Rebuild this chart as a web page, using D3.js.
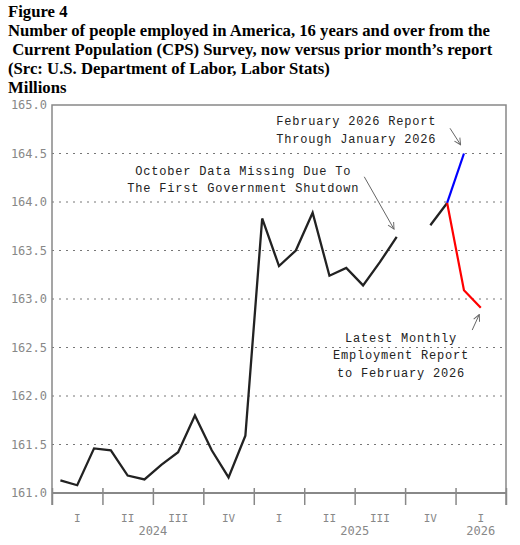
<!DOCTYPE html>
<html lang="en">

<head>
    <meta charset="UTF-8">
    <script src="https://d3js.org/d3.v7.min.js"></script>
    <style>
        body { margin: 0; background: #fff; }
        .title { font-family: "Liberation Serif", serif; font-weight: bold; font-size: 16.7px; fill: #000; }
        .ann { font-family: "Liberation Mono", monospace; font-size: 12px; letter-spacing: 0.8px; fill: #222; }
        .tick-lab { font-family: "DejaVu Sans Mono", monospace; font-size: 12px; fill: #888; }
        .q-lab { font-family: "DejaVu Sans Mono", monospace; font-size: 11px; fill: #888; }
    </style>
</head>

<body>
    <div class="chart"></div>
    <script>
        // chart data, months from Jan 2024 (index 0)
        let titleLines = [
            "Figure 4",
            "Number of people employed in America, 16 years and over from the",
            " Current Population (CPS) Survey, now versus prior month\u2019s report",
            "(Src: U.S. Department of Labor, Labor Stats)",
            "Millions"
        ]
        // Jan 2024 .. Dec 2025, October 2025 missing (shutdown)
        let employed = [161.13, 161.08, 161.46, 161.44, 161.18, 161.14, 161.29, 161.42, 161.80, 161.44, 161.16, 161.59,
                        163.83, 163.34, 163.50, 163.89, 163.24, 163.32, 163.14, 163.38, 163.64, null, 163.76, 163.99]
        // prior (Feb 2026) report, Dec 2025 - Jan 2026
        let priorMonths = [23, 24]
        let priorReport = [163.99, 164.50]
        // latest report, Dec 2025 - Feb 2026
        let latestMonths = [23, 24, 25]
        let latestReport = [163.99, 163.09, 162.91]

        let quarterLabels = ["I", "II", "III", "IV", "I", "II", "III", "IV", "I"]
        let yearLabels = ["2024", "2025", "2026"]
        let yearStart = [0, 12, 24]
        let yearEnd = [12, 24, 27]
        let yTicks = [161.0, 161.5, 162.0, 162.5, 163.0, 163.5, 164.0, 164.5, 165.0]

        // annotations in data units (month, value)
        let notes = [
            { lines: ["October Data Missing Due To", "The First Government Shutdown"], m: 11.37, v: 164.31,
              from: [18.57, 164.26], to: [20.34, 163.72] },
            { lines: ["February 2026 Report", "Through January 2026"], m: 18.1, v: 164.82,
              from: [23.67, 164.76], to: [24.30, 164.59] },
            { lines: ["Latest Monthly", "Employment Report", "to February 2026"], m: 20.75, v: 162.59,
              from: [24.99, 162.68], to: [25.41, 162.84] }
        ]

        let W = 520, H = 545
        let margin = { top: 105, right: 14, bottom: 52, left: 52 }

        var svg = d3.select(".chart").append("svg")
            .attr("width", W)
            .attr("height", H)

        svg.append("defs").append("marker")
            .attr("id", "arr")
            .attr("viewBox", "0 0 10 10")
            .attr("refX", 9).attr("refY", 5)
            .attr("markerWidth", 8).attr("markerHeight", 8)
            .attr("markerUnits", "userSpaceOnUse")
            .attr("orient", "auto")
            .append("path")
            .attr("d", "M1,1 L9,5 L1,9")
            .attr("fill", "none")
            .attr("stroke", "#666")
            .attr("stroke-width", 1.2)

        // title
        svg.append("g").selectAll("text")
            .data(titleLines)
            .enter().append("text")
            .attr("class", "title")
            .attr("x", 8)
            .attr("y", (d, i) => 17 + i * 19)
            .attr("xml:space", "preserve")
            .style("white-space", "pre")
            .text(d => d)

        var x = d3.scaleLinear().domain([0, 27]).range([margin.left, W - margin.right])
        var y = d3.scaleLinear().domain([161, 165]).range([H - margin.bottom, margin.top])

        // grid
        svg.append("g").selectAll("line")
            .data(yTicks.filter(t => t > 161 && t < 165))
            .enter().append("line")
            .attr("x1", x(0)).attr("x2", x(27))
            .attr("y1", d => y(d)).attr("y2", d => y(d))
            .attr("stroke", "#777")
            .attr("stroke-width", 1)
            .attr("stroke-dasharray", "2,5")

        // frame
        svg.append("path")
            .attr("d", "M" + x(0) + "," + (y(161) + 12) + "V" + y(165) + "H" + x(27) + "V" + (y(161) + 12))
            .attr("fill", "none")
            .attr("stroke", "#888")
            .attr("stroke-width", 1.5)

        // y axis labels
        var yAxis = svg.append("g")
            .attr("transform", "translate(" + x(0) + ",0)")
            .call(d3.axisLeft(y).tickValues(yTicks).tickFormat(d3.format(".1f")).tickSize(0).tickPadding(5))
        yAxis.select(".domain").remove()
        yAxis.selectAll("text").attr("class", "tick-lab").attr("font-family", null).attr("font-size", null).attr("fill", null)

        // x axis: quarter ticks crossing the baseline
        var xAxis = svg.append("g")
            .attr("transform", "translate(0," + (y(161) - 5) + ")")
            .call(d3.axisBottom(x).tickValues(d3.range(0, 28, 3)).tickSize(17).tickFormat(""))
        xAxis.select(".domain").remove()
        xAxis.selectAll("line").attr("stroke", "#888").attr("stroke-width", 1.5)

        svg.append("line")
            .attr("x1", x(0)).attr("x2", x(27))
            .attr("y1", y(161)).attr("y2", y(161))
            .attr("stroke", "#888").attr("stroke-width", 2)

        svg.append("g").selectAll("text")
            .data(quarterLabels)
            .enter().append("text")
            .attr("class", "q-lab")
            .attr("text-anchor", "middle")
            .attr("x", (d, i) => x(i * 3 + 1.5))
            .attr("y", y(161) + 28.5)
            .text(d => d)

        svg.append("g").selectAll("text")
            .data(yearLabels)
            .enter().append("text")
            .attr("class", "tick-lab")
            .attr("text-anchor", "middle")
            .attr("x", (d, i) => x((yearStart[i] + yearEnd[i]) / 2))
            .attr("y", y(161) + 41.5)
            .text(d => d)

        // lines
        var line = d3.line()
            .defined(d => d[1] != null)
            .x(d => x(d[0] + 0.5))
            .y(d => y(d[1]))

        svg.append("path")
            .datum(employed.map((v, i) => [i, v]))
            .attr("d", line)
            .attr("fill", "none")
            .attr("stroke", "#222")
            .attr("stroke-width", 2.3)

        svg.append("path")
            .datum(priorMonths.map((m, i) => [m, priorReport[i]]))
            .attr("d", line)
            .attr("fill", "none")
            .attr("stroke", "#0000ff")
            .attr("stroke-width", 2.2)

        svg.append("path")
            .datum(latestMonths.map((m, i) => [m, latestReport[i]]))
            .attr("d", line)
            .attr("fill", "none")
            .attr("stroke", "#ff0000")
            .attr("stroke-width", 2.2)

        // annotations
        notes.forEach(function (n) {
            n.lines.forEach(function (t, i) {
                svg.append("text")
                    .attr("class", "ann")
                    .attr("text-anchor", "middle")
                    .attr("dominant-baseline", "central")
                    .attr("x", x(n.m))
                    .attr("y", y(n.v) + i * 17.5)
                    .text(t)
            })
            svg.append("line")
                .attr("x1", x(n.from[0])).attr("y1", y(n.from[1]))
                .attr("x2", x(n.to[0])).attr("y2", y(n.to[1]))
                .attr("stroke", "#666")
                .attr("stroke-width", 1)
                .attr("marker-end", "url(#arr)")
        })
    </script>
</body>

</html>
